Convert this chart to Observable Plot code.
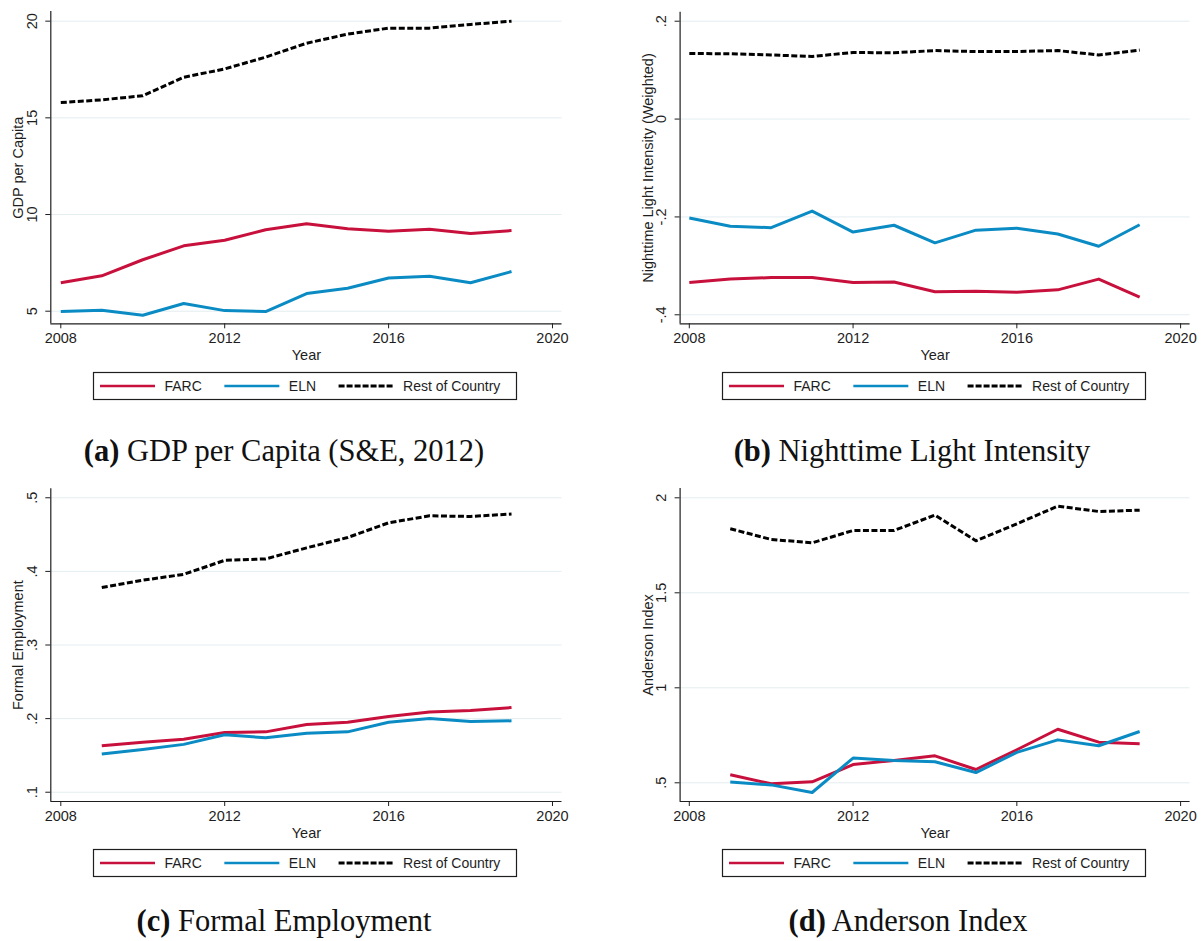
<!DOCTYPE html>
<html><head><meta charset="utf-8">
<script src="https://cdn.jsdelivr.net/npm/d3@7"></script>
<script src="https://cdn.jsdelivr.net/npm/@observablehq/plot@0.6"></script>
<style>
html,body{margin:0;padding:0;background:#fff;}
#root{position:relative;width:1201px;height:941px;overflow:hidden;font-family:"Liberation Sans",Arial,sans-serif;}
#root svg{position:absolute;}
</style></head><body><div id="root"></div>
<script>
// ---- series and categories ----
const seriesNames = ["FARC", "ELN", "Rest of Country"];
const seriesColors = ["#c8103c", "#0b8bc3", "#000000"];
const xTicks = [2008, 2012, 2016, 2020];

// (a) GDP per Capita
const gdpYears = [2008, 2009, 2010, 2011, 2012, 2013, 2014, 2015, 2016, 2017, 2018, 2019];
const gdpFARC = [6.47, 6.83, 7.66, 8.38, 8.67, 9.21, 9.52, 9.26, 9.14, 9.24, 9.02, 9.17];
const gdpELN = [4.98, 5.05, 4.79, 5.40, 5.03, 4.98, 5.91, 6.19, 6.72, 6.81, 6.47, 7.05];
const gdpRest = [15.79, 15.93, 16.14, 17.10, 17.53, 18.14, 18.86, 19.33, 19.64, 19.64, 19.83, 20.00];
const gdpTicks = [5, 10, 15, 20];
const gdpTickLabels = ["5", "10", "15", "20"];

// (b) Nighttime Light Intensity
const ntlYears = [2008, 2009, 2010, 2011, 2012, 2013, 2014, 2015, 2016, 2017, 2018, 2019];
const ntlFARC = [-0.334, -0.327, -0.324, -0.324, -0.334, -0.333, -0.353, -0.352, -0.354, -0.349, -0.327, -0.364];
const ntlELN = [-0.202, -0.219, -0.222, -0.188, -0.231, -0.217, -0.253, -0.227, -0.223, -0.235, -0.260, -0.216];
const ntlRest = [0.134, 0.1335, 0.131, 0.128, 0.136, 0.1355, 0.140, 0.138, 0.138, 0.140, 0.131, 0.141];
const ntlTicks = [-0.4, -0.2, 0, 0.2];
const ntlTickLabels = ["-.4", "-.2", "0", ".2"];

// (c) Formal Employment
const empYears = [2009, 2010, 2011, 2012, 2013, 2014, 2015, 2016, 2017, 2018, 2019];
const empFARC = [0.163, 0.168, 0.172, 0.181, 0.182, 0.192, 0.195, 0.203, 0.209, 0.211, 0.215];
const empELN = [0.152, 0.158, 0.165, 0.178, 0.174, 0.180, 0.182, 0.195, 0.200, 0.196, 0.197];
const empRest = [0.378, 0.388, 0.396, 0.415, 0.417, 0.432, 0.446, 0.466, 0.4755, 0.4746, 0.478];
const empTicks = [0.1, 0.2, 0.3, 0.4, 0.5];
const empTickLabels = [".1", ".2", ".3", ".4", ".5"];

// (d) Anderson Index
const andYears = [2009, 2010, 2011, 2012, 2013, 2014, 2015, 2016, 2017, 2018, 2019];
const andFARC = [0.542, 0.495, 0.505, 0.596, 0.618, 0.642, 0.570, 0.674, 0.782, 0.714, 0.705];
const andELN = [0.504, 0.489, 0.449, 0.630, 0.618, 0.611, 0.554, 0.660, 0.726, 0.695, 0.770];
const andRest = [1.837, 1.781, 1.763, 1.828, 1.828, 1.909, 1.774, 1.863, 1.956, 1.928, 1.935];
const andTicks = [0.5, 1, 1.5, 2];
const andTickLabels = [".5", "1", "1.5", "2"];

// ---- layout ----
const H = 370;
const panels = [
  {left: 0, top: 0, width: 600, mL: 50.3, mR: 38.5, mT: 11, axisY: 323.3,
   xDomain: [2007.756, 2020.232], yDomain: [4.348, 20.5],
   ticks: gdpTicks, tickLabels: gdpTickLabels, yTitle: "GDP per Capita",
   years: gdpYears, series: [gdpFARC, gdpELN, gdpRest],
   legend: [93, 372], caption: [284, 461, "(a)", " GDP per Capita (S&E, 2012)"]},
  {left: 600, top: 0, width: 601, mL: 79.6, mR: 11.4, mT: 11.7, axisY: 323.3,
   xDomain: [2007.775, 2020.232], yDomain: [-0.4184, 0.2184],
   ticks: ntlTicks, tickLabels: ntlTickLabels, yTitle: "Nighttime Light Intensity (Weighted)",
   years: ntlYears, series: [ntlFARC, ntlELN, ntlRest],
   legend: [722, 372], caption: [912, 461, "(b)", " Nighttime Light Intensity"]},
  {left: 0, top: 470, width: 600, mL: 50.3, mR: 38.5, mT: 18.3, axisY: 331,
   xDomain: [2007.756, 2020.232], yDomain: [0.0874, 0.5122],
   ticks: empTicks, tickLabels: empTickLabels, yTitle: "Formal Employment",
   years: empYears, series: [empFARC, empELN, empRest],
   legend: [93, 849], caption: [284, 931, "(c)", " Formal Employment"]},
  {left: 600, top: 470, width: 601, mL: 79.6, mR: 11.4, mT: 18, axisY: 331,
   xDomain: [2007.775, 2020.232], yDomain: [0.4016, 2.049],
   ticks: andTicks, tickLabels: andTickLabels, yTitle: "Anderson Index",
   years: andYears, series: [andFARC, andELN, andRest],
   legend: [722, 849], caption: [908, 931, "(d)", " Anderson Index"]}
];

const root = document.getElementById("root");
const axisColor = "#1e1e1e";

panels.forEach(p => {
  const rows = p.years.flatMap((yr, i) => seriesNames.map((s, j) => ({year: yr, value: p.series[j][i], series: s})));
  const labelMap = new Map(p.ticks.map((t, i) => [t, p.tickLabels[i]]));
  const chart = Plot.plot({
    width: p.width, height: H,
    marginLeft: p.mL, marginRight: p.mR, marginTop: p.mT, marginBottom: H - p.axisY,
    style: {fontFamily: "'Liberation Sans', Arial, sans-serif", fontSize: "14.5px", color: axisColor, background: "transparent", overflow: "visible"},
    x: {domain: p.xDomain},
    y: {domain: p.yDomain},
    color: {domain: seriesNames, range: seriesColors},
    marks: [
      Plot.gridY(p.ticks, {stroke: "#e4edf0", strokeOpacity: 1, strokeWidth: 1}),
      Plot.line(rows.filter(d => d.series !== "Rest of Country"), {x: "year", y: "value", z: "series", stroke: "series", strokeWidth: 3, strokeLinejoin: "round", strokeLinecap: "butt"}),
      Plot.line(rows.filter(d => d.series === "Rest of Country"), {x: "year", y: "value", stroke: "series", strokeWidth: 3, strokeDasharray: "6,2.5", strokeLinecap: "butt"}),
      Plot.ruleX([p.xDomain[0]], {stroke: axisColor, strokeWidth: 1.2}),
      Plot.ruleY([p.yDomain[0]], {stroke: axisColor, strokeWidth: 1.2}),
      Plot.axisX(xTicks, {tickSize: 5, tickPadding: 4, tickFormat: d => String(d), label: null, stroke: axisColor}),
      Plot.axisY(p.ticks, {tickSize: 5, tickPadding: 9, tickRotate: -90, tickFormat: d => labelMap.get(d), label: null, stroke: axisColor}),
      Plot.text([p.yTitle], {text: d => d, frameAnchor: "left", textAnchor: "middle", lineAnchor: "middle", rotate: -90, dx: -32, fill: axisColor}),
      Plot.text(["Year"], {text: d => d, frameAnchor: "bottom", textAnchor: "middle", lineAnchor: "middle", dy: 32, fill: axisColor})
    ]
  });
  chart.style.left = p.left + "px";
  chart.style.top = p.top + "px";
  root.appendChild(chart);
});

// ---- legends and captions ----
const overlay = d3.select(root).append("svg")
  .attr("width", 1201).attr("height", 941)
  .style("left", "0px").style("top", "0px");

panels.forEach(p => {
  const [lx, ly] = p.legend;
  const g = overlay.append("g");
  g.append("rect").attr("x", lx + 0.5).attr("y", ly + 0.5).attr("width", 423).attr("height", 27)
    .attr("fill", "#fff").attr("stroke", axisColor).attr("stroke-width", 1.2);
  let x = lx + 7;
  const cy = ly + 14;
  seriesNames.forEach((s, j) => {
    const ln = g.append("line").attr("x1", x).attr("x2", x + 55).attr("y1", cy).attr("y2", cy)
      .attr("stroke", seriesColors[j]).attr("stroke-width", j === 2 ? 3 : 2.6);
    if (j === 2) ln.attr("stroke-dasharray", "6,2");
    const t = g.append("text").attr("x", x + 55 + 9.5).attr("y", cy).attr("dy", "0.36em")
      .attr("font-family", "'Liberation Sans', Arial, sans-serif").attr("font-size", 14)
      .attr("fill", axisColor).text(s);
    x = x + 55 + 9.5 + t.node().getComputedTextLength() + 22.5;
  });

  const [cx, cyb, bold, rest] = p.caption;
  const ct = overlay.append("text").attr("x", cx).attr("y", cyb).attr("text-anchor", "middle")
    .attr("font-family", "'Liberation Serif', 'Times New Roman', serif").attr("font-size", 30.5).attr("fill", "#111");
  ct.append("tspan").attr("font-weight", "bold").text(bold);
  ct.append("tspan").text(rest);
});
</script>
</body></html>
